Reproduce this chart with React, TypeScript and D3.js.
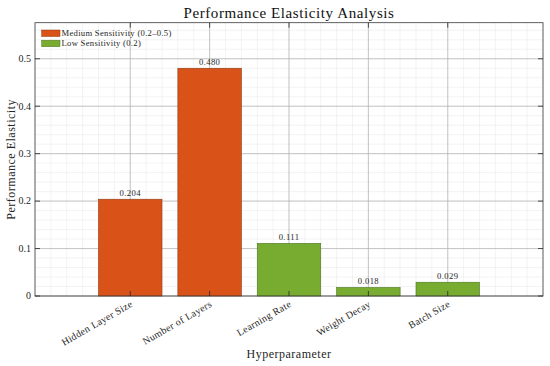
import React from "react";
import * as d3 from "d3";

const categories = ["Hidden Layer Size", "Number of Layers", "Learning Rate", "Weight Decay", "Batch Size"];
const values = [0.204, 0.48, 0.111, 0.018, 0.029];
const groups = ["medium", "medium", "low", "low", "low"];
const yTicks = [0, 0.1, 0.2, 0.3, 0.4, 0.5];
const legendLabels = ["Medium Sensitivity (0.2\u20130.5)", "Low Sensitivity (0.2)"];

const W = 550, H = 366;
const M = { left: 35, right: 543, top: 22.7, bottom: 296 };
const FONT = "'Liberation Serif', 'Times New Roman', serif";
const fill: Record<string, string> = { medium: "#D95319", low: "#77AC30" };
const edge: Record<string, string> = { medium: "#8c3a14", low: "#4e7420" };

export default function App() {
  const x = d3.scaleLinear().domain([-1.2, 5.2]).range([M.left, M.right]);
  const y = d3.scaleLinear().domain([0, 0.576]).range([M.bottom, M.top]);
  const minorX = d3.range(-1.2, 5.2001, 0.2).map((v) => +v.toFixed(2));
  const minorY = d3.range(0, 0.5761, 0.02).map((v) => +v.toFixed(2));
  const bw = x(0.8) - x(0);
  return (
    <svg width={W} height={H} style={{ position: "absolute", left: 0, top: 0, background: "#fff" }}>
      <rect x={0} y={0} width={W} height={H} fill="#fff" />
      {minorX.map((v, i) => (
        <line key={"mx" + i} x1={x(v)} x2={x(v)} y1={M.top} y2={M.bottom} stroke="#ebebeb" strokeWidth={0.6} />
      ))}
      {minorY.map((v, i) => (
        <line key={"my" + i} x1={M.left} x2={M.right} y1={y(v)} y2={y(v)} stroke="#ebebeb" strokeWidth={0.6} />
      ))}
      {categories.map((c, i) => (
        <line key={"gx" + i} x1={x(i)} x2={x(i)} y1={M.top} y2={M.bottom} stroke="#b0b0b0" strokeWidth={0.7} />
      ))}
      {yTicks.map((v, i) => (
        <line key={"gy" + i} x1={M.left} x2={M.right} y1={y(v)} y2={y(v)} stroke="#b0b0b0" strokeWidth={0.7} />
      ))}
      {values.map((v, i) => (
        <g key={"b" + i}>
          <rect x={x(i) - bw / 2} y={y(v)} width={bw} height={y(0) - y(v)} fill={fill[groups[i]]} stroke={edge[groups[i]]} strokeWidth={0.6} />
          <text x={x(i)} y={y(v) - 3} textAnchor="middle" fontFamily={FONT} fontSize={8.6} letterSpacing={0.4} fill="#262626">
            {v.toFixed(3)}
          </text>
        </g>
      ))}
      <rect x={M.left} y={M.top} width={M.right - M.left} height={M.bottom - M.top} fill="none" stroke="#3a3a3a" strokeWidth={0.8} />
      {categories.map((c, i) => (
        <g key={"tx" + i}>
          <line x1={x(i)} x2={x(i)} y1={M.bottom} y2={M.bottom - 5} stroke="#262626" strokeWidth={0.8} />
          <line x1={x(i)} x2={x(i)} y1={M.top} y2={M.top + 5} stroke="#262626" strokeWidth={0.8} />
          <text
            transform={`translate(${x(i) + 3},${M.bottom + 10}) rotate(-30)`}
            textAnchor="end"
            fontFamily={FONT}
            fontSize={10}
            letterSpacing={0.3}
            fill="#262626"
          >
            {c}
          </text>
        </g>
      ))}
      {yTicks.map((v, i) => (
        <g key={"ty" + i}>
          <line x1={M.left} x2={M.left + 5} y1={y(v)} y2={y(v)} stroke="#262626" strokeWidth={0.8} />
          <line x1={M.right} x2={M.right - 5} y1={y(v)} y2={y(v)} stroke="#262626" strokeWidth={0.8} />
          <text x={M.left - 4} y={y(v) + 3.3} textAnchor="end" fontFamily={FONT} fontSize={10} fill="#262626">
            {v === 0 ? "0" : String(v)}
          </text>
        </g>
      ))}
      {legendLabels.map((l, i) => (
        <g key={"lg" + i}>
          <rect x={41.7} y={30 + i * 10.2} width={18.3} height={6.5} fill={fill[i === 0 ? "medium" : "low"]} stroke={edge[i === 0 ? "medium" : "low"]} strokeWidth={0.5} />
          <text x={61.5} y={36.2 + i * 10.2} fontFamily={FONT} fontSize={8.6} letterSpacing={0.3} fill="#262626">
            {l}
          </text>
        </g>
      ))}
      <text x={(M.left + M.right) / 2} y={18} textAnchor="middle" fontFamily={FONT} fontSize={15} letterSpacing={0.6} fill="#111">
        Performance Elasticity Analysis
      </text>
      <text x={(M.left + M.right) / 2} y={358} textAnchor="middle" fontFamily={FONT} fontSize={12} letterSpacing={0.5} fill="#262626">
        Hyperparameter
      </text>
      <text transform={`translate(15,${(M.top + M.bottom) / 2}) rotate(-90)`} textAnchor="middle" fontFamily={FONT} fontSize={12} letterSpacing={0.5} fill="#262626">
        Performance Elasticity
      </text>
    </svg>
  );
}
